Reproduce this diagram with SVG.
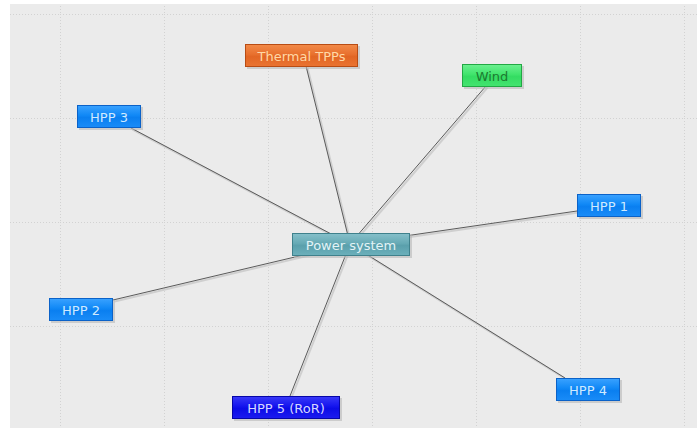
<svg xmlns="http://www.w3.org/2000/svg" width="697" height="428" viewBox="0 0 697 428">
<defs>
<linearGradient id="gBlue" x1="0" y1="0" x2="0" y2="1"><stop offset="0" stop-color="#3aa2ff"/><stop offset="0.45" stop-color="#1088f6"/><stop offset="0.55" stop-color="#0a7ff0"/><stop offset="1" stop-color="#1a8cf8"/></linearGradient>
<linearGradient id="gDeep" x1="0" y1="0" x2="0" y2="1"><stop offset="0" stop-color="#3a3af8"/><stop offset="0.45" stop-color="#1414ee"/><stop offset="0.55" stop-color="#0c0ce6"/><stop offset="1" stop-color="#1c1cf0"/></linearGradient>
<linearGradient id="gOrange" x1="0" y1="0" x2="0" y2="1"><stop offset="0" stop-color="#f28a48"/><stop offset="0.45" stop-color="#e8702e"/><stop offset="0.55" stop-color="#e26624"/><stop offset="1" stop-color="#ea7432"/></linearGradient>
<linearGradient id="gGreen" x1="0" y1="0" x2="0" y2="1"><stop offset="0" stop-color="#6cf090"/><stop offset="0.45" stop-color="#40e46c"/><stop offset="0.55" stop-color="#34dc62"/><stop offset="1" stop-color="#44e470"/></linearGradient>
<linearGradient id="gTeal" x1="0" y1="0" x2="0" y2="1"><stop offset="0" stop-color="#86c0ca"/><stop offset="0.45" stop-color="#66aab5"/><stop offset="0.55" stop-color="#5aa0ac"/><stop offset="1" stop-color="#6cb0bb"/></linearGradient>
<pattern id="grid" x="0" y="0" width="104" height="104" patternUnits="userSpaceOnUse" patternTransform="translate(60 14)">
<path d="M0 0.5H104M0.5 0V104" stroke="#d2d2d2" stroke-width="1" stroke-dasharray="1 2" fill="none"/>
</pattern>
</defs>
<style>
.shadow{fill:#b8b8b8;opacity:0.6}
.box{stroke-width:1}
.lbl{font-family:"DejaVu Sans","Liberation Sans",sans-serif;font-size:13px;text-anchor:middle;dominant-baseline:central}
.blue .box{fill:url(#gBlue);stroke:#0b62c8}
.blue text{fill:#cfeaff}
.conn line{stroke:#5a5a5a;stroke-width:1}
.conn line.s{stroke:#cfcfcf;stroke-width:2}
</style>
<rect x="0" y="0" width="697" height="428" fill="#ffffff"/>
<rect x="10" y="4" width="687" height="424" fill="#ebebeb"/>
<rect x="10" y="4" width="687" height="424" fill="url(#grid)"/>
<g id="connectors" class="conn">
<g transform="translate(1.5 1.5)">
<line class="s" x1="306" y1="66" x2="350" y2="244"/>
<line class="s" x1="486" y1="86" x2="350" y2="244"/>
<line class="s" x1="131" y1="128" x2="350" y2="244"/>
<line class="s" x1="577" y1="211" x2="350" y2="244"/>
<line class="s" x1="113" y1="300" x2="350" y2="244"/>
<line class="s" x1="290" y1="396" x2="350" y2="244"/>
<line class="s" x1="565" y1="378" x2="350" y2="244"/>
</g>
<line x1="306" y1="66" x2="350" y2="244"/>
<line x1="486" y1="86" x2="350" y2="244"/>
<line x1="131" y1="128" x2="350" y2="244"/>
<line x1="577" y1="211" x2="350" y2="244"/>
<line x1="113" y1="300" x2="350" y2="244"/>
<line x1="290" y1="396" x2="350" y2="244"/>
<line x1="565" y1="378" x2="350" y2="244"/>
</g>
<g id="power-system">
<rect class="shadow" x="294" y="235" width="118" height="23"/>
<rect class="box" x="292.5" y="233.5" width="117" height="22" fill="url(#gTeal)" stroke="#3f818c"/>
<text class="lbl" x="351" y="245" fill="#e2f3f6">Power system</text>
</g>
<g id="thermal-tpps">
<rect class="shadow" x="247" y="46" width="113" height="23"/>
<rect class="box" x="245.5" y="44.5" width="112" height="22" fill="url(#gOrange)" stroke="#b84c14"/>
<text class="lbl" x="301.5" y="56" fill="#ffd8a6">Thermal TPPs</text>
</g>
<g id="wind">
<rect class="shadow" x="464" y="66" width="60" height="23"/>
<rect class="box" x="462.5" y="64.5" width="59" height="22" fill="url(#gGreen)" stroke="#22a844"/>
<text class="lbl" x="492" y="76" fill="#1c7a30">Wind</text>
</g>
<g id="hpp3" class="blue">
<rect class="shadow" x="79" y="107" width="64" height="23"/>
<rect class="box" x="77.5" y="105.5" width="63" height="22"/>
<text class="lbl" x="109" y="117">HPP 3</text>
</g>
<g id="hpp1" class="blue">
<rect class="shadow" x="579" y="196" width="64" height="23"/>
<rect class="box" x="577.5" y="194.5" width="63" height="22"/>
<text class="lbl" x="609" y="206">HPP 1</text>
</g>
<g id="hpp2" class="blue">
<rect class="shadow" x="51" y="300" width="64" height="23"/>
<rect class="box" x="49.5" y="298.5" width="63" height="22"/>
<text class="lbl" x="81" y="310">HPP 2</text>
</g>
<g id="hpp4" class="blue">
<rect class="shadow" x="558" y="380" width="64" height="23"/>
<rect class="box" x="556.5" y="378.5" width="63" height="22"/>
<text class="lbl" x="588" y="390">HPP 4</text>
</g>
<g id="hpp5-ror">
<rect class="shadow" x="234" y="398" width="108" height="23"/>
<rect class="box" x="232.5" y="396.5" width="107" height="22" fill="url(#gDeep)" stroke="#0606a8"/>
<text class="lbl" x="286" y="408" fill="#d6d6ff">HPP 5 (RoR)</text>
</g>
</svg>
